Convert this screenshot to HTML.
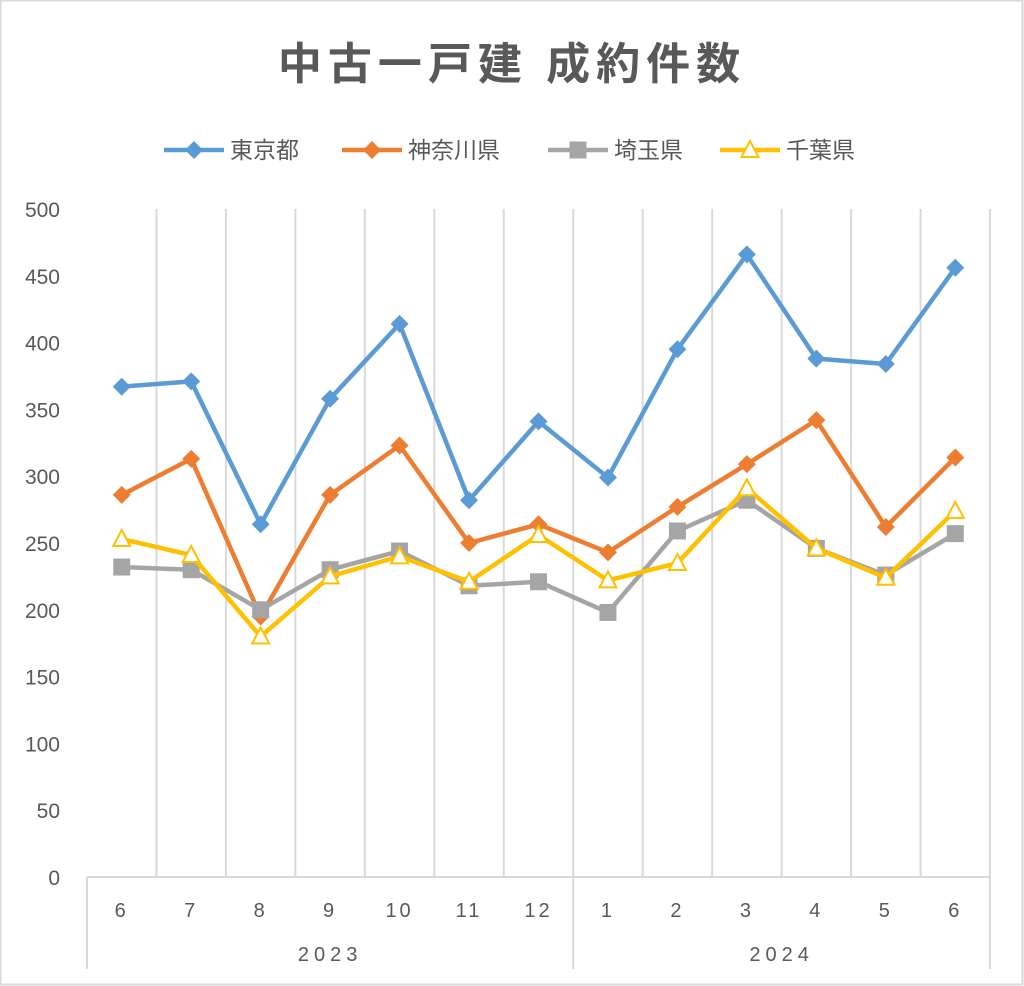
<!DOCTYPE html>
<html><head><meta charset="utf-8"><style>
html,body{margin:0;padding:0;background:#fff}
svg{display:block}
text{font-family:"Liberation Sans","Noto Sans CJK JP",sans-serif;fill:#595959}
</style></head><body>
<svg id="chart" width="1024" height="986" viewBox="0 0 1024 986" xmlns="http://www.w3.org/2000/svg">
<rect x="0.5" y="0.5" width="1022" height="984" fill="#fff" stroke="#d9d9d9" stroke-width="2"/>
<text x="512" y="79" text-anchor="middle" font-size="44" font-weight="bold" letter-spacing="6">中古一戸建 成約件数</text>
<g id="grid"></g><g id="axes"></g><g id="series"></g><g id="legend"></g>
</svg>
<script>
const months=["6","7","8","9","10","11","12","1","2","3","4","5","6"];
const years=["2023","2024"];
const yTicks=[0,50,100,150,200,250,300,350,400,450,500];
const seriesNames=["東京都","神奈川県","埼玉県","千葉県"];
const tokyo=[367,371,264,358,414,282,341,299,395,466,388,384,456];
const kanagawa=[286,313,195,286,323,250,264,243,277,309,342,262,314];
const saitama=[232,230,200,230,244,218,221,198,259,282,246,226,257];
const chiba=[253,241,180,225,240,221,256,222,235,291,246,224,274];
const colors=["#5b9bd5","#ed7d31","#a5a5a5","#ffc000"];
const markers=["diamond","diamond","square","triangle"];
const L=87,R=990,T=209,B=877,NS="http://www.w3.org/2000/svg";
const bw=(R-L)/months.length;
const x=i=>L+bw*(i+0.5);
const y=v=>B-(v/500)*(B-T);
function mk(t,a,p){const e=document.createElementNS(NS,t);for(const k in a)e.setAttribute(k,a[k]);p.appendChild(e);return e;}
const grid=document.getElementById('grid'),axes=document.getElementById('axes'),ser=document.getElementById('series'),leg=document.getElementById('legend');
for(let i=1;i<=months.length;i++){const gl=mk('line',{x1:L+bw*i,x2:L+bw*i,y1:T,y2:B,stroke:'#d9d9d9','stroke-width':2},grid);

}
yTicks.forEach(v=>{const t=mk('text',{x:60,y:y(v)+8,'text-anchor':'end','font-size':21},axes);t.textContent=v;

});
const base=mk('line',{x1:L,x2:R,y1:B,y2:B,stroke:'#d9d9d9','stroke-width':2},axes);


[L,L+bw*7,R].forEach(px=>{const s=mk('line',{x1:px,x2:px,y1:B,y2:969,stroke:'#d9d9d9','stroke-width':2},axes);

});
months.forEach((m,i)=>{const t=mk('text',{x:x(i),y:917,'text-anchor':'middle','font-size':20,'letter-spacing':3},axes);t.textContent=m;

});
[[0,7],[7,13]].forEach((r,j)=>{const t=mk('text',{x:(L+bw*r[0]+L+bw*r[1])/2,y:961,'text-anchor':'middle','font-size':20,'letter-spacing':5},axes);t.textContent=years[j];

});
function marker(type,cx,cy,c,p){
 if(type==='diamond')return mk('polygon',{points:`${cx},${cy-9} ${cx+9},${cy} ${cx},${cy+9} ${cx-9},${cy}`,fill:c},p);
 if(type==='square')return mk('rect',{x:cx-8.5,y:cy-8.5,width:17,height:17,fill:c},p);
 return mk('polygon',{points:`${cx},${cy-9} ${cx+8.5,0}${''}`.replace(/.*/,`${cx},${cy-9} ${cx+8.5},${cy+7} ${cx-8.5},${cy+7}`),fill:'#fff',stroke:c,'stroke-width':2},p);
}
[tokyo,kanagawa,saitama,chiba].forEach((d,s)=>{
 const g=mk('g',{},ser);
 
 
 const pl=mk('polyline',{points:d.map((v,i)=>x(i)+','+y(v)).join(' '),fill:'none',stroke:colors[s],'stroke-width':4.5,'stroke-linejoin':'round'},g);
 
 
 d.forEach((v,i)=>{const m=marker(markers[s],x(i),y(v),colors[s],g);
 
 });
});
const lx=[164,342,548,720];
seriesNames.forEach((n,s)=>{
 const g=mk('g',{},leg);
 
 
 mk('line',{x1:lx[s],x2:lx[s]+60,y1:150,y2:150,stroke:colors[s],'stroke-width':4.5},g);
 marker(markers[s],lx[s]+30,150,colors[s],g);
 const t=mk('text',{x:lx[s]+66,y:158,'font-size':23},g);t.textContent=n;
});
</script>
</body></html>
